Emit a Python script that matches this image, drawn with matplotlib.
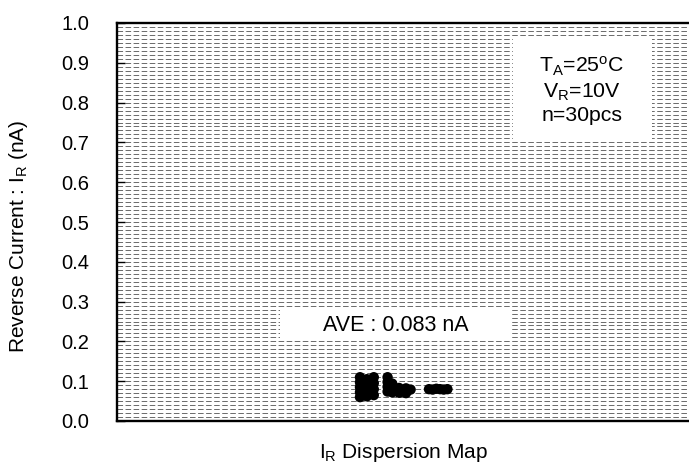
import matplotlib
matplotlib.use("Agg")
import matplotlib.pyplot as plt
from matplotlib.patches import Rectangle

plt.rcParams['font.family'] = ['Liberation Sans', 'DejaVu Sans']
plt.rcParams['mathtext.fontset'] = 'custom'
plt.rcParams['mathtext.rm'] = 'Liberation Sans'
plt.rcParams['mathtext.it'] = 'Liberation Sans:italic'
plt.rcParams['lines.scale_dashes'] = False

# ---- data ----
# horizontal column index of each sample in the dispersion map
x_pos = [0, 0, 0, 0, 0, 1.5, 1.5, 1.5, 1.5, 3, 3, 3, 3,
         6, 6, 6, 6, 7, 7, 8.5, 8.5, 10, 10, 11,
         15, 15.8, 16.6, 17.4, 18.2, 19]
ir_values = [0.110, 0.0975, 0.085, 0.0725, 0.060,
             0.105, 0.090, 0.075, 0.062,
             0.110, 0.095, 0.080, 0.065,
             0.110, 0.098, 0.086, 0.074, 0.094, 0.072,
             0.083, 0.071, 0.082, 0.070, 0.079,
             0.080, 0.079, 0.081, 0.080, 0.079, 0.080]
y_ticks = [0.0, 0.1, 0.2, 0.3, 0.4, 0.5, 0.6, 0.7, 0.8, 0.9, 1.0]
average = 0.083
conditions = "T$_\\mathregular{A}$=25$^\\mathregular{o}$C\nV$_\\mathregular{R}$=10V\nn=30pcs"
ave_text = f"AVE : {average:.3f} nA"
xlabel = "I$_\\mathregular{R}$ Dispersion Map"
ylabel = "Reverse Current : I$_\\mathregular{R}$ (nA)"

fig = plt.figure(figsize=(6.89, 4.67), dpi=100)
ax = fig.add_axes([117/689, 46/467, 572/689, 398/467])

ax.set_xlim(-52.8, 71.5)
ax.set_ylim(0, 1.0)

# dense dashed grid every 0.01
for i in range(1, 100):
    ax.axhline(i / 100, color='#6a6a6a', lw=0.7, ls=(0, (4.0, 1.8)), zorder=1)

# white boxes covering grid
ax.add_patch(Rectangle((0.692, 0.706), 0.243, 0.259, transform=ax.transAxes,
                       facecolor='white', edgecolor='none', zorder=2))
ax.add_patch(Rectangle((0.285, 0.204), 0.406, 0.077, transform=ax.transAxes,
                       facecolor='white', edgecolor='none', zorder=2))
ax.text(0.813, 0.832, conditions, transform=ax.transAxes, ha='center', va='center',
        fontsize=15.3, linespacing=1.2, zorder=3)
ax.text(0.488, 0.239, ave_text, transform=ax.transAxes, ha='center', va='center',
        fontsize=15.5, zorder=3)

ax.scatter(x_pos, ir_values, s=56, color='black', edgecolors='none', zorder=4)

ax.set_yticks(y_ticks)
ax.set_yticklabels([f"{v:.1f}" for v in y_ticks])
ax.tick_params(axis='y', direction='in', length=6, width=1, labelsize=14.5, pad=20)
ax.set_xticks([])

for s in ['left', 'top', 'bottom']:
    ax.spines[s].set_linewidth(1.7)
    ax.spines[s].set_color('black')
ax.spines['right'].set_visible(False)

ax.set_xlabel(xlabel, fontsize=15)
ax.xaxis.label.set_va('center')
ax.xaxis.set_label_coords(0.5, -0.078)
ax.set_ylabel(ylabel, fontsize=15)
ax.yaxis.label.set_va('center')
ax.yaxis.set_label_coords(-0.173, 0.465)

fig.savefig("out.png", dpi=100)
